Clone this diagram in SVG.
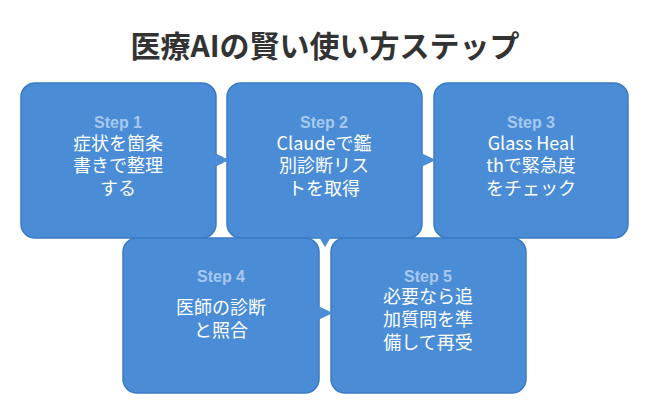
<svg xmlns="http://www.w3.org/2000/svg" width="650" height="415" viewBox="0 0 650 415">
<style>
.box{fill:#4a8dd6;stroke:#3b7bc4;stroke-width:1.5}
.tri{fill:#4a8dd6;stroke:none}
.step{font-family:"Liberation Sans","Noto Sans CJK JP",sans-serif;font-weight:bold;font-size:16px;fill:#a6c8ee;text-anchor:middle}
.txt{font-family:"Noto Sans CJK JP",sans-serif;font-size:18px;fill:#ffffff;text-anchor:middle}
.title{font-family:"Noto Sans CJK JP",sans-serif;font-weight:bold;font-size:30px;fill:#333333;text-anchor:middle}
</style>
<rect width="650" height="415" fill="#ffffff"/>
<text class="title" x="325" y="57">医療AIの賢い使い方ステップ</text>
<g id="step1">
<rect class="box" x="21" y="83" width="195" height="155" rx="14"/>
<text class="step" x="118" y="128">Step 1</text>
<text class="txt" x="118" y="150">症状を箇条</text>
<text class="txt" x="118" y="172">書きで整理</text>
<text class="txt" x="118" y="195">する</text>
</g>
<g id="step2">
<rect class="box" x="227" y="83" width="195" height="155" rx="14"/>
<text class="step" x="324" y="128">Step 2</text>
<text class="txt" x="324" y="150">Claudeで鑑</text>
<text class="txt" x="324" y="172">別診断リス</text>
<text class="txt" x="324" y="195">トを取得</text>
</g>
<g id="step3">
<rect class="box" x="434" y="83" width="194" height="155" rx="14"/>
<text class="step" x="531" y="128">Step 3</text>
<text class="txt" x="531" y="150">Glass Heal</text>
<text class="txt" x="531" y="172">thで緊急度</text>
<text class="txt" x="531" y="195">をチェック</text>
</g>
<g id="step4">
<rect class="box" x="123" y="238" width="196" height="155" rx="14"/>
<text class="step" x="221" y="282">Step 4</text>
<text class="txt" x="221" y="314">医師の診断</text>
<text class="txt" x="221" y="337">と照合</text>
</g>
<g id="step5">
<rect class="box" x="331" y="238" width="195" height="155" rx="14"/>
<text class="step" x="428" y="282">Step 5</text>
<text class="txt" x="428" y="303">必要なら追</text>
<text class="txt" x="428" y="326">加質問を準</text>
<text class="txt" x="428" y="349">備して再受</text>
</g>
<g id="connectors">
<polygon class="tri" points="215,153 229,160 215,167"/>
<polygon class="tri" points="421,153 436,160 421,167"/>
<polygon class="tri" points="319,237 325,247 331,237"/>
<polygon class="tri" points="318,306 333,313 318,320"/>
</g>
</svg>
